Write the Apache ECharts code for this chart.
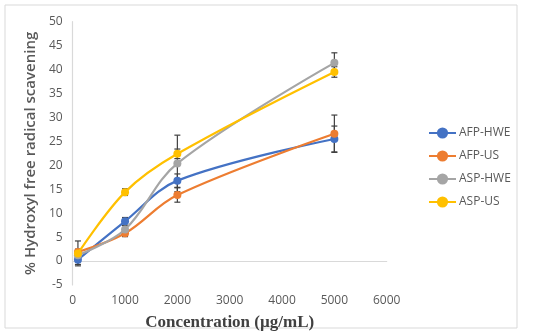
<!DOCTYPE html>
<html>
<head>
<meta charset="utf-8">
<script src="https://cdn.jsdelivr.net/npm/echarts@6/dist/echarts.min.js"></script>
<style>html,body{margin:0;padding:0;background:#fff}#c{width:550px;height:336px}</style>
</head>
<body>
<div id="c"></div>
<script>
// Data
var concentrations = [100, 1000, 2000, 5000];
var seriesNames = ['AFP-HWE', 'AFP-US', 'ASP-HWE', 'ASP-US'];
var afpHwe = [0.3, 8.3, 16.8, 25.5];
var afpUs = [1.9, 5.8, 13.8, 26.6];
var aspHwe = [1.2, 6.6, 20.4, 41.4];
var aspUs = [1.6, 14.4, 22.4, 39.5];
var afpHweErr = [1.0, 0.8, 1.4, 2.7];
var afpUsErr = [0.6, 0.7, 1.5, 3.9];
var aspHweErr = [0.5, 0.8, 5.9, 2.1];
var aspUsErr = [2.6, 0.7, 1.0, 1.1];
var xTicks = [0, 1000, 2000, 3000, 4000, 5000, 6000];
var yTicks = [-5, 0, 5, 10, 15, 20, 25, 30, 35, 40, 45, 50];

var values = [afpHwe, afpUs, aspHwe, aspUs];
var errors = [afpHweErr, afpUsErr, aspHweErr, aspUsErr];
var colors = ['#4472C4', '#ED7D31', '#A5A5A5', '#FFC000'];

var chart = echarts.init(document.getElementById('c'), null, {renderer: 'canvas'});

var series = [];
values.forEach(function (vals, i) {
  series.push({
    name: seriesNames[i],
    type: 'line',
    smooth: 0.35,
    symbol: 'circle',
    symbolSize: 8,
    z: 3 + i,
    itemStyle: {color: colors[i]},
    lineStyle: {color: colors[i], width: 2.2},
    data: concentrations.map(function (x, j) { return [x, vals[j]]; })
  });
});
// error bars
var errData = [];
values.forEach(function (vals, i) {
  concentrations.forEach(function (x, j) {
    errData.push([x, vals[j] - errors[i][j], vals[j] + errors[i][j]]);
  });
});
series.push({
  type: 'custom',
  z: 2,
  silent: true,
  renderItem: function (params, api) {
    var x = api.value(0);
    var lo = api.coord([x, api.value(1)]);
    var hi = api.coord([x, api.value(2)]);
    var hw = 3;
    var st = {stroke: '#404040', lineWidth: 1.2};
    return {
      type: 'group',
      children: [
        {type: 'line', shape: {x1: lo[0], y1: lo[1], x2: hi[0], y2: hi[1]}, style: st},
        {type: 'line', shape: {x1: lo[0] - hw, y1: lo[1], x2: lo[0] + hw, y2: lo[1]}, style: st},
        {type: 'line', shape: {x1: hi[0] - hw, y1: hi[1], x2: hi[0] + hw, y2: hi[1]}, style: st}
      ]
    };
  },
  encode: {x: 0, y: [1, 2]},
  data: errData
});

chart.setOption({
  animation: false,
  backgroundColor: '#fff',
  graphic: [{
    type: 'rect',
    shape: {x: 5, y: 5, width: 512, height: 323},
    style: {fill: 'none', stroke: '#D9D9D9', lineWidth: 1},
    z: -1
  }],
  grid: {left: 72.7, right: 163.3, top: 21.7, bottom: 49.3, containLabel: false},
  legend: {
    orient: 'vertical',
    left: 423,
    top: 122,
    itemWidth: 27,
    itemHeight: 14,
    itemGap: 11,
    data: seriesNames,
    textStyle: {color: '#595959', fontSize: 12, fontFamily: 'Open Sans', padding: [0, 0, 0, -2]}
  },
  xAxis: {
    type: 'value',
    min: xTicks[0],
    max: xTicks[xTicks.length - 1],
    interval: 1000,
    axisLine: {show: true, onZero: true, lineStyle: {color: '#D9D9D9', width: 1.2}},
    axisTick: {show: false},
    splitLine: {show: false},
    axisLabel: {color: '#595959', fontSize: 12, fontFamily: 'Open Sans', margin: 10,
      formatter: function (v) { return String(v); }},
    name: 'Concentration (µg/mL)',
    nameLocation: 'middle',
    nameGap: 29,
    nameTextStyle: {color: '#404040', fontSize: 17, fontWeight: 'bold', fontFamily: 'Liberation Serif'}
  },
  yAxis: {
    type: 'value',
    min: yTicks[0],
    max: yTicks[yTicks.length - 1],
    interval: 5,
    axisLine: {show: true, lineStyle: {color: '#D9D9D9', width: 1.2}},
    axisTick: {show: false},
    splitLine: {show: false},
    axisLabel: {color: '#595959', fontSize: 12, fontFamily: 'Open Sans', margin: 10,
      formatter: function (v) { return String(v); }},
    name: '% Hydroxyl free radical scavening',
    nameLocation: 'middle',
    nameGap: 30,
    nameTextStyle: {color: '#595959', fontSize: 15, fontWeight: 600, fontFamily: 'Open Sans'}
  },
  series: series
});
</script>
</body>
</html>
